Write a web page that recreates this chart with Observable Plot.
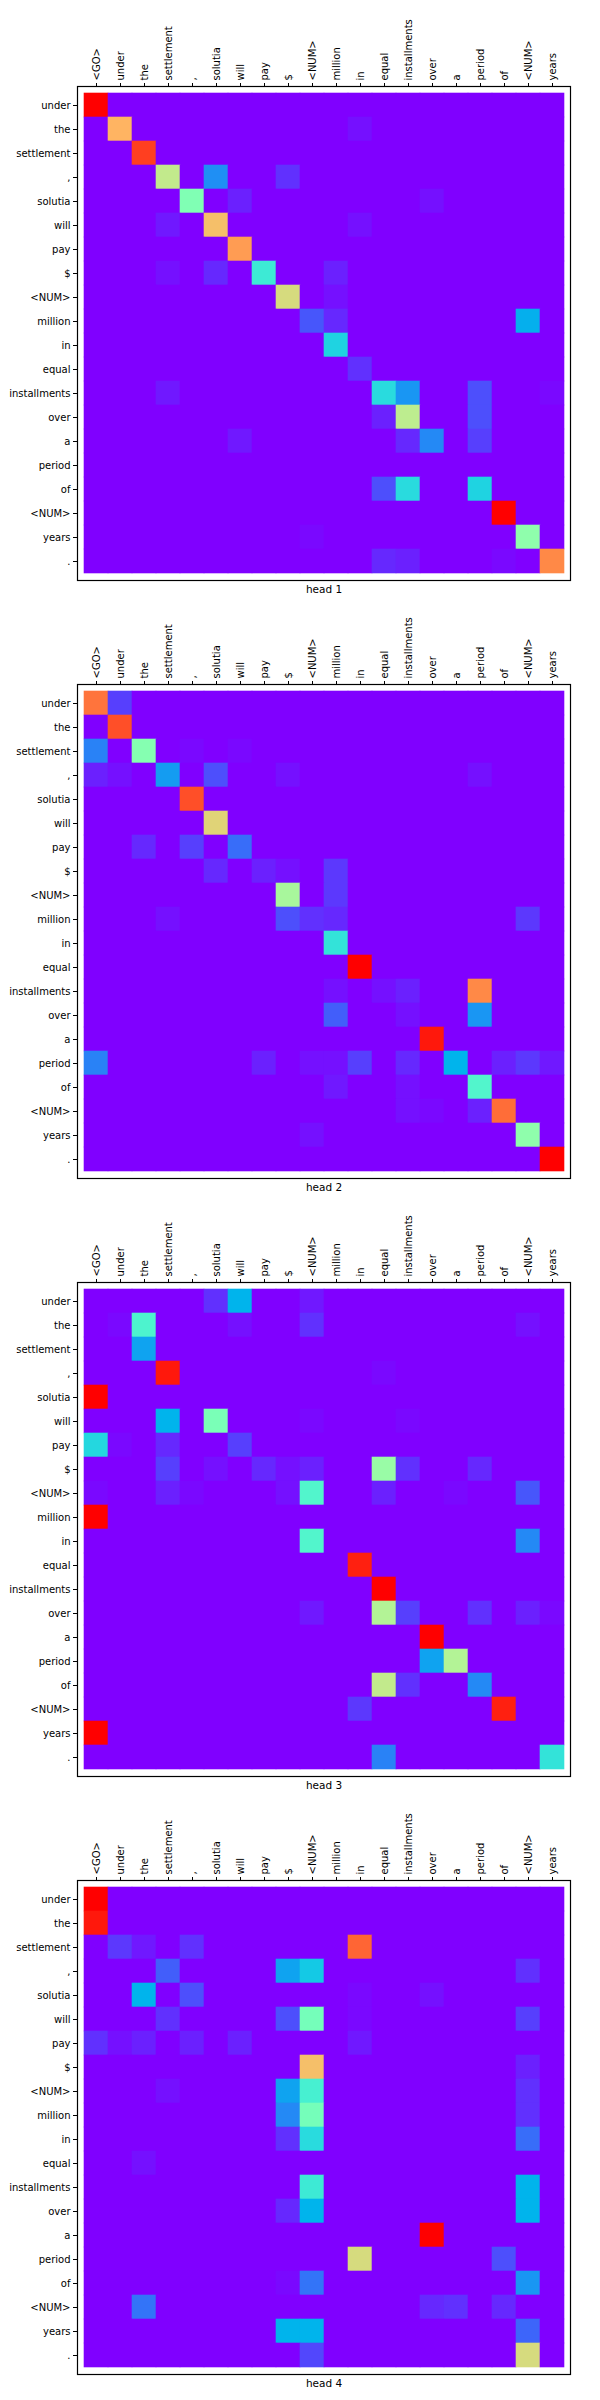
<!DOCTYPE html>
<html>
<head>
<meta charset="utf-8">
<script src="https://cdn.jsdelivr.net/npm/d3@7"></script>
<script src="https://cdn.jsdelivr.net/npm/@observablehq/plot@0.6"></script>
<style>
  html, body { margin: 0; padding: 0; background: #fff; }
  svg { display: block; }
</style>
</head>
<body>
<div id="chart"></div>
<script>
// Source tokens (columns) and target tokens (rows)
const sourceTokens = ["<GO>","under","the","settlement",",","solutia","will","pay","$","<NUM>","million","in","equal","installments","over","a","period","of","<NUM>","years"];
const targetTokens = ["under","the","settlement",",","solutia","will","pay","$","<NUM>","million","in","equal","installments","over","a","period","of","<NUM>","years","."];
const headLabels = ["head 1","head 2","head 3","head 4"];

// Non-background cells as [row, column, normalized weight]; all other cells are 0
const head1 = [
  [0,0,1.0],
  [1,1,0.75],[1,11,0.02],
  [2,2,0.92],
  [3,3,0.63],[3,5,0.19],[3,8,0.06],
  [4,4,0.5],[4,6,0.04],[4,14,0.02],
  [5,5,0.73],[5,3,0.03],[5,11,0.02],
  [6,6,0.79],
  [7,7,0.37],[7,3,0.02],[7,5,0.05],[7,10,0.04],
  [8,8,0.67],[8,10,0.02],
  [9,9,0.11],[9,10,0.05],[9,18,0.24],
  [10,10,0.31],
  [11,11,0.06],
  [12,12,0.33],[12,13,0.2],[12,16,0.1],[12,3,0.03],[12,19,0.01],
  [13,12,0.04],[13,13,0.62],[13,16,0.1],
  [14,13,0.05],[14,14,0.18],[14,16,0.08],[14,6,0.03],
  [16,12,0.1],[16,13,0.33],[16,16,0.31],
  [17,17,1.0],
  [18,18,0.53],[18,9,0.01],
  [19,19,0.82],[19,12,0.05],[19,13,0.04],[19,17,0.01]
];
const head2 = [
  [0,0,0.85],[0,1,0.08],
  [1,1,0.9],
  [2,0,0.17],[2,2,0.51],[2,4,0.01],[2,6,0.01],
  [3,0,0.04],[3,1,0.02],[3,3,0.21],[3,5,0.1],[3,8,0.02],[3,16,0.02],
  [4,4,0.9],
  [5,5,0.69],
  [6,2,0.05],[6,4,0.08],[6,6,0.14],
  [7,5,0.05],[7,7,0.04],[7,8,0.02],[7,10,0.07],
  [8,8,0.58],[8,10,0.07],
  [9,3,0.02],[9,8,0.1],[9,9,0.06],[9,10,0.05],[9,18,0.07],
  [10,10,0.35],
  [11,11,1.0],
  [12,10,0.02],[12,12,0.02],[12,13,0.04],[12,16,0.82],
  [13,10,0.12],[13,13,0.02],[13,16,0.2],
  [14,14,0.97],
  [15,0,0.17],[15,7,0.04],[15,9,0.02],[15,10,0.02],[15,11,0.08],[15,13,0.05],[15,15,0.25],[15,17,0.04],[15,18,0.07],[15,19,0.03],
  [16,16,0.41],[16,10,0.03],[16,13,0.02],
  [17,13,0.02],[17,14,0.01],[17,16,0.04],[17,17,0.86],
  [18,9,0.02],[18,18,0.53],
  [19,19,1.0]
];
const head3 = [
  [0,5,0.06],[0,6,0.25],[0,9,0.03],
  [1,1,0.01],[1,2,0.4],[1,6,0.02],[1,9,0.06],[1,18,0.02],
  [2,2,0.22],
  [3,3,0.97],[3,12,0.01],
  [4,0,1.0],
  [5,3,0.25],[5,5,0.49],[5,9,0.01],[5,13,0.01],
  [6,0,0.32],[6,1,0.01],[6,3,0.05],[6,6,0.08],
  [7,3,0.08],[7,5,0.02],[7,7,0.05],[7,8,0.02],[7,9,0.04],[7,12,0.55],[7,13,0.06],[7,16,0.05],
  [8,0,0.01],[8,3,0.04],[8,4,0.01],[8,8,0.02],[8,9,0.41],[8,12,0.04],[8,15,0.01],[8,18,0.11],
  [9,0,1.0],
  [10,9,0.41],[10,18,0.18],
  [11,11,0.96],
  [12,12,1.0],
  [13,9,0.03],[13,12,0.6],[13,13,0.08],[13,16,0.06],[13,18,0.04],[13,19,0.01],
  [14,14,1.0],
  [15,14,0.22],[15,15,0.6],
  [16,12,0.63],[16,13,0.06],[16,16,0.18],
  [17,11,0.07],[17,17,0.96],
  [18,0,1.0],
  [19,12,0.17],[19,19,0.35]
];
const head4 = [
  [0,0,1.0],
  [1,0,0.97],
  [2,1,0.07],[2,2,0.03],[2,4,0.06],[2,11,0.87],
  [3,3,0.12],[3,8,0.22],[3,9,0.29],[3,18,0.06],
  [4,2,0.25],[4,4,0.1],[4,11,0.01],[4,14,0.02],
  [5,3,0.06],[5,8,0.1],[5,9,0.48],[5,11,0.01],[5,18,0.08],
  [6,0,0.06],[6,1,0.02],[6,2,0.04],[6,4,0.04],[6,6,0.04],[6,11,0.03],
  [7,9,0.73],[7,18,0.04],
  [8,3,0.02],[8,8,0.22],[8,9,0.39],[8,18,0.06],
  [9,8,0.18],[9,9,0.48],[9,18,0.06],
  [10,8,0.06],[10,9,0.33],[10,18,0.14],
  [11,2,0.02],
  [12,9,0.37],[12,18,0.25],
  [13,8,0.05],[13,9,0.25],[13,18,0.25],
  [14,14,1.0],
  [15,11,0.67],[15,17,0.1],
  [16,8,0.01],[16,9,0.15],[16,18,0.2],
  [17,2,0.15],[17,14,0.05],[17,15,0.06],[17,17,0.05],
  [18,8,0.25],[18,9,0.25],[18,18,0.13],
  [19,9,0.09],[19,18,0.67]
];
const heads = [head1, head2, head3, head4];

// matplotlib "rainbow" colormap
function rainbow(t) {
  t = Math.max(0, Math.min(1, t));
  const r = Math.min(1, Math.abs(2 * t - 0.5));
  const g = Math.sin(Math.PI * t);
  const b = Math.cos(Math.PI * t / 2);
  return `rgb(${Math.round(r * 255)},${Math.round(g * 255)},${Math.round(b * 255)})`;
}

function toCells(sparse) {
  const grid = d3.range(targetTokens.length).map(() => d3.range(sourceTokens.length).map(() => 0));
  for (const [r, c, v] of sparse) grid[r][c] = v;
  const out = [];
  grid.forEach((row, r) => row.forEach((v, c) => out.push({r, c, v})));
  return out;
}

const container = document.getElementById("chart");
heads.forEach((sparse, k) => {
  const cells = toCells(sparse);
  const svg = Plot.plot({
    width: 600,
    height: 598,
    marginLeft: 77,
    marginRight: 30,
    marginTop: 86,
    marginBottom: 18,
    style: {fontFamily: "DejaVu Sans, sans-serif", fontSize: "10px", color: "#000", background: "#fff"},
    x: {type: "band", domain: d3.range(sourceTokens.length), padding: 0, axis: null},
    y: {type: "band", domain: d3.range(targetTokens.length), padding: 0, axis: null},
    color: {type: "linear", domain: [0, 1], clamp: true, interpolate: rainbow},
    marks: [
      Plot.cell(cells, {x: "c", y: "r", fill: "v", inset: -0.3}),
      Plot.frame({stroke: "#000", strokeWidth: 1.2}),
      Plot.axisX({anchor: "top", tickSize: 4, tickPadding: 2, tickRotate: -90,
                  tickFormat: i => sourceTokens[i], label: null}),
      Plot.axisY({anchor: "left", tickSize: 4, tickPadding: 3,
                  tickFormat: i => targetTokens[i], label: null}),
      Plot.text([headLabels[k]], {text: d => d, frameAnchor: "bottom", lineAnchor: "top", dy: 5, fontSize: 10.5, fill: "#000"})
    ]
  });
  container.appendChild(svg);
});
</script>
</body>
</html>
